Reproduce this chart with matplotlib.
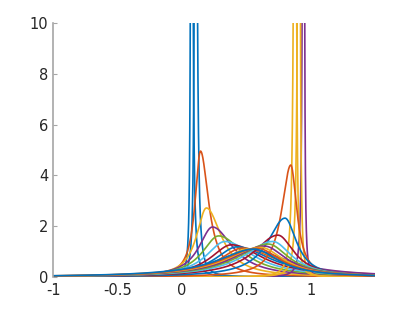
import numpy as np
import matplotlib.pyplot as plt

# peak positions / peak heights
# left family (peaks drifting right from ~0.07)
left_centers = [0.074, 0.105, 0.144, 0.19, 0.237, 0.285, 0.335, 0.385, 0.43, 0.47, 0.505, 0.535]
left_heights = [60, 40, 4.96, 2.72, 1.97, 1.62, 1.40, 1.27, 1.19, 1.14, 1.10, 1.07]
left_colors = ['#0072BD', '#0072BD', '#D95319', '#EDB120', '#7E2F8E', '#77AC30',
               '#4DBEEE', '#A2142F', '#0072BD', '#D95319', '#EDB120', '#7E2F8E']

# right family (peaks drifting left from ~0.95)
right_centers = [0.945, 0.91, 0.88, 0.845, 0.80, 0.745, 0.705, 0.67, 0.64, 0.61, 0.585, 0.56]
right_heights = [80, 50, 40, 4.41, 2.32, 1.65, 1.40, 1.30, 1.22, 1.17, 1.13, 1.10]
right_colors = ['#7E2F8E', '#EDB120', '#EDB120', '#D95319', '#0072BD', '#A2142F',
                '#4DBEEE', '#77AC30', '#7E2F8E', '#EDB120', '#D95319', '#0072BD']

xticks = [-1, -0.5, 0, 0.5, 1]
yticks = [0, 2, 4, 6, 8, 10]

x = np.linspace(-1, 1.5, 6000)


def peak(c, h, outer_left):
    # lorentzian-like bump, a bit steeper on the outer side
    g = 1 / (np.pi * h)
    g_in, g_out = 1.2 * g, 0.8 * g
    if outer_left:
        gam = np.where(x < c, g_out, g_in)
    else:
        gam = np.where(x > c, g_out, g_in)
    return h * gam**2 / ((x - c)**2 + gam**2)


fig = plt.figure(figsize=(4.15, 3.12), dpi=100)
ax = fig.add_axes([0.128, 0.112, 0.776, 0.814])

for c, h, col in zip(left_centers, left_heights, left_colors):
    ax.plot(x, peak(c, h, True), color=col, lw=1.2)
for c, h, col in zip(right_centers, right_heights, right_colors):
    ax.plot(x, peak(c, h, False), color=col, lw=1.2)

ax.set_xlim(-1, 1.5)
ax.set_ylim(0, 10)
ax.set_xticks(xticks)
ax.set_xticklabels(['-1', '-0.5', '0', '0.5', '1'])
ax.set_yticks(yticks)
for s in ['top', 'right', 'bottom']:
    ax.spines[s].set_visible(False)
ax.spines['left'].set_color('#a6a6a6')
ax.spines['left'].set_linewidth(1.2)
ax.tick_params(axis='y', direction='in', length=3, color='#a6a6a6', labelsize=10.5, labelcolor='#262626')
ax.tick_params(axis='x', length=0, labelsize=10.5, labelcolor='#262626', pad=4)

plt.savefig('out.png', dpi=100)
